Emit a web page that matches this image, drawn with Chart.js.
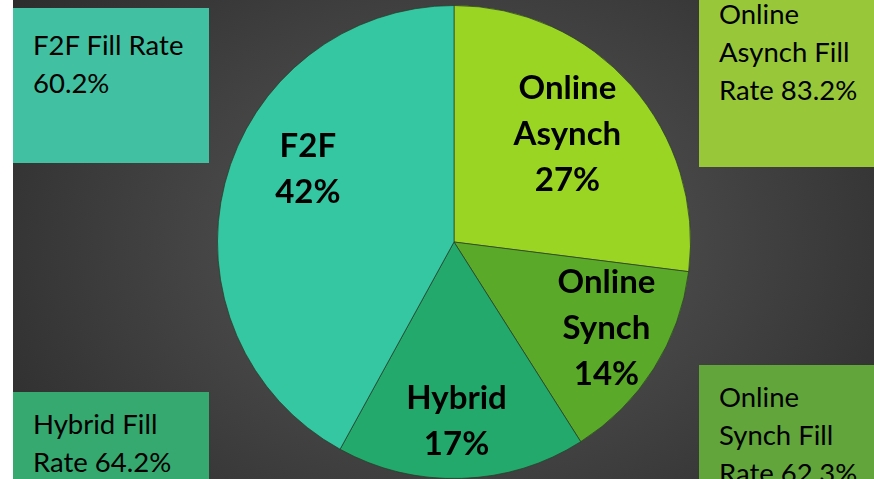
<!DOCTYPE html>
<html lang="en">
<head>
    <meta charset="UTF-8">
    <title>Fill Rate by Modality</title>
    <script src="https://cdn.jsdelivr.net/npm/chart.js@4.4.0/dist/chart.umd.min.js"></script>
    <style>
        body {
            margin: 0;
            width: 874px;
            height: 479px;
            overflow: hidden;
            background: #ffffff;
            font-family: Lato, "Open Sans", Arial, sans-serif;
        }
        .stage {
            position: absolute;
            left: 13px;
            top: 0;
            width: 861px;
            height: 479px;
            background: radial-gradient(ellipse 560px 420px at 441px 240px, #5a5a5a 0%, #454545 45%, #2b2b2b 100%);
        }
        .pie-wrap {
            position: absolute;
            left: 217px;
            top: 5px;
            width: 474px;
            height: 474px;
        }
        .box {
            position: absolute;
            box-sizing: border-box;
            color: #000;
            font-size: 27.5px;
            line-height: 38px;
            padding-left: 20px;
        }
    </style>
</head>
<body>
    <div class="stage"></div>
    <div class="pie-wrap"><canvas id="chart"></canvas></div>

    <div class="box" style="left:13px;top:8px;width:196px;height:155px;background:#41c1a1;padding-top:18px;">F2F Fill Rate<br>60.2%</div>
    <div class="box" style="left:699px;top:0;width:175px;height:167px;background:#98c83a;">
        <div style="margin-top:-5px;">Online<br>Asynch Fill<br>Rate 83.2%</div></div>
    <div class="box" style="left:13px;top:392px;width:196px;height:87px;background:#36a971;padding-top:13px;">Hybrid Fill<br>Rate 64.2%</div>
    <div class="box" style="left:699px;top:365px;width:175px;height:114px;background:#62a63b;padding-top:13px;">Online<br>Synch Fill<br>Rate 62.3%</div>

    <script>
        const categories = ['Online Asynch', 'Online Synch', 'Hybrid', 'F2F'];
        const labelLines = [['Online', 'Asynch', '27%'], ['Online', 'Synch', '14%'], ['Hybrid', '17%'], ['F2F', '42%']];
        const shares = [27, 14, 17, 42];
        const sliceColors = ['#9bd524', '#5ba928', '#23a96c', '#34c7a2'];

        // where each label sits: fraction of radius, angle tweak in degrees
        const labelPlace = [
            { r: 0.66, da: -2 },
            { r: 0.74, da: -3 },
            { r: 0.76, da: 1 },
            { r: 0.69, da: 12 }
        ];

        const sliceLabels = {
            id: 'sliceLabels',
            afterDatasetsDraw(chart) {
                const ctx = chart.ctx;
                const arcs = chart.getDatasetMeta(0).data;
                ctx.save();
                ctx.font = 'bold 33px Lato, "Open Sans", sans-serif';
                ctx.fillStyle = '#000';
                ctx.textAlign = 'center';
                ctx.textBaseline = 'middle';
                arcs.forEach((arc, i) => {
                    const mid = (arc.startAngle + arc.endAngle) / 2 + labelPlace[i].da * Math.PI / 180;
                    const rr = arc.outerRadius * labelPlace[i].r;
                    const cx = arc.x + Math.cos(mid) * rr;
                    const cy = arc.y + Math.sin(mid) * rr;
                    const lines = labelLines[i];
                    const lh = 46;
                    lines.forEach((t, j) => {
                        ctx.fillText(t, cx, cy + (j - (lines.length - 1) / 2) * lh);
                    });
                });
                ctx.restore();
            }
        };

        new Chart(document.getElementById('chart'), {
            type: 'pie',
            data: {
                labels: categories,
                datasets: [{
                    data: shares,
                    backgroundColor: sliceColors,
                    borderColor: 'rgba(40,60,40,0.7)',
                    borderWidth: 1
                }]
            },
            options: {
                responsive: true,
                maintainAspectRatio: false,
                animation: false,
                layout: { padding: 0 },
                plugins: {
                    legend: { display: false },
                    tooltip: { enabled: false }
                }
            },
            plugins: [sliceLabels]
        });
    </script>
</body>
</html>
